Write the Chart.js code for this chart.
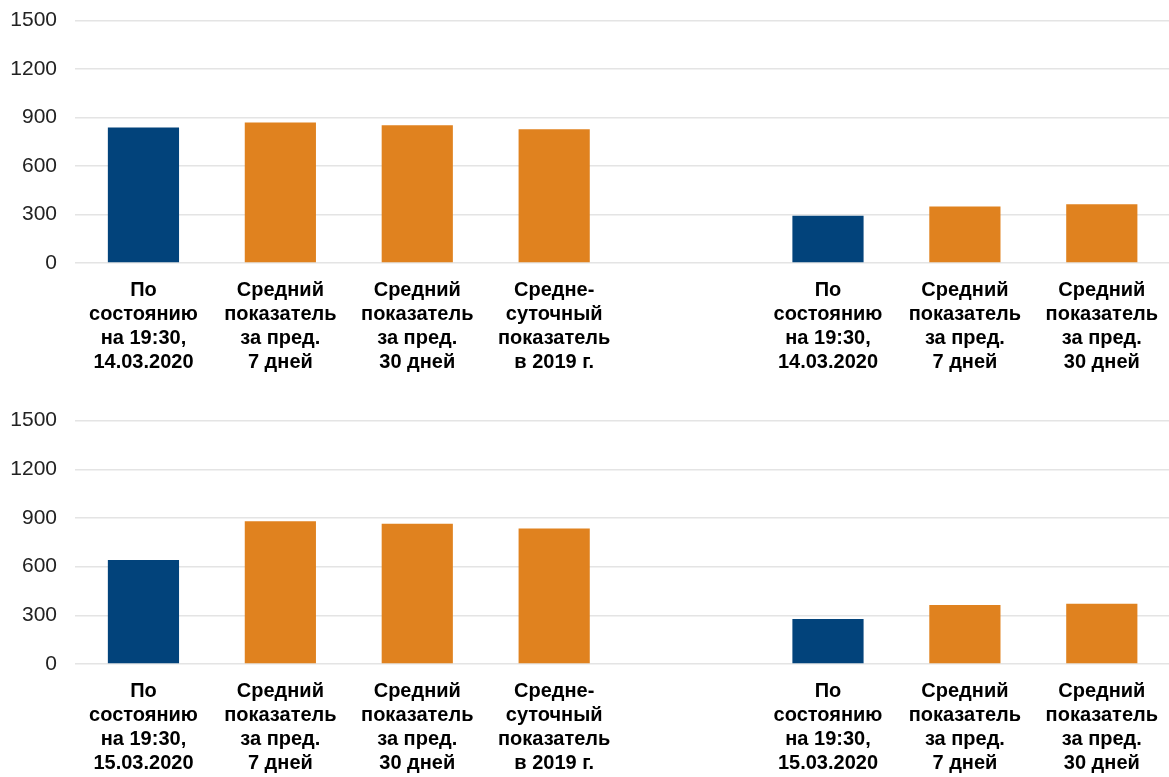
<!doctype html>
<html lang="ru">
<head>
<meta charset="UTF-8">
<title>Показатели</title>
<style>
  body { margin: 0; background: #fff; }
  .page { position: relative; width: 1169px; height: 777px; overflow: hidden; }
  canvas { display: block; position: absolute; left: 0; }
  #chart-top { top: -10px; }
  #chart-bottom { top: 390px; }
</style>
</head>
<body>
<div class="page">
  <canvas id="chart-top" width="1173" height="398"></canvas>
  <canvas id="chart-bottom" width="1173" height="387"></canvas>
</div>

<script src="https://cdn.jsdelivr.net/npm/chart.js@4/dist/chart.umd.min.js"></script>
<script>
const labelsTop = [
    ['По', 'состоянию', 'на 19:30,', '14.03.2020'],
    ['Средний', 'показатель', 'за пред.', '7 дней'],
    ['Средний', 'показатель', 'за пред.', '30 дней'],
    ['Средне-', 'суточный', 'показатель', 'в 2019 г.'],
    '',
    ['По', 'состоянию', 'на 19:30,', '14.03.2020'],
    ['Средний', 'показатель', 'за пред.', '7 дней'],
    ['Средний', 'показатель', 'за пред.', '30 дней']
];
const labelsBottom = [
    ['По', 'состоянию', 'на 19:30,', '15.03.2020'],
    ['Средний', 'показатель', 'за пред.', '7 дней'],
    ['Средний', 'показатель', 'за пред.', '30 дней'],
    ['Средне-', 'суточный', 'показатель', 'в 2019 г.'],
    '',
    ['По', 'состоянию', 'на 19:30,', '15.03.2020'],
    ['Средний', 'показатель', 'за пред.', '7 дней'],
    ['Средний', 'показатель', 'за пред.', '30 дней']
];
const valuesTop = [838, 869, 852, 827, null, 292, 349, 364];
const valuesBottom = [641, 879, 865, 835, null, 277, 364, 372];
const yTicks = [0, 300, 600, 900, 1200, 1500];

const BLUE = '#02437B';
const ORANGE = '#E0821F';
const barColors = [BLUE, ORANGE, ORANGE, ORANGE, ORANGE, BLUE, ORANGE, ORANGE];

function makeChart(id, labels, values, xHeight) {
    return new Chart(document.getElementById(id), {
        type: 'bar',
        data: {
            labels: labels,
            datasets: [{
                data: values,
                backgroundColor: barColors,
                categoryPercentage: 1,
                barPercentage: 0.52
            }]
        },
        options: {
            responsive: false,
            animation: false,
            layout: { padding: 0 },
            plugins: { legend: { display: false }, tooltip: { enabled: false } },
            scales: {
                x: {
                    grid: { display: false, drawTicks: false },
                    border: { display: false },
                    ticks: {
                        color: '#000',
                        padding: 15,
                        maxRotation: 0,
                        autoSkip: false,
                        font: { family: '"Liberation Sans", Arial, sans-serif', size: 20, weight: 'bold', lineHeight: 1.2 }
                    },
                    afterFit: s => { s.height = xHeight; }
                },
                y: {
                    min: 0,
                    max: 1500,
                    afterBuildTicks: s => { s.ticks = yTicks.map(v => ({ value: v })); },
                    grid: { color: '#e4e4e4', lineWidth: 1.5, drawTicks: false },
                    border: { display: false },
                    ticks: {
                        color: '#222',
                        padding: 18,
                        callback: v => String(v),
                        font: { family: '"Liberation Sans", Arial, sans-serif', size: 21 }
                    },
                    afterFit: s => { s.width = 75; }
                }
            }
        }
    });
}

makeChart('chart-top', labelsTop, valuesTop, 125);
makeChart('chart-bottom', labelsBottom, valuesBottom, 113);
</script>
</body>
</html>
